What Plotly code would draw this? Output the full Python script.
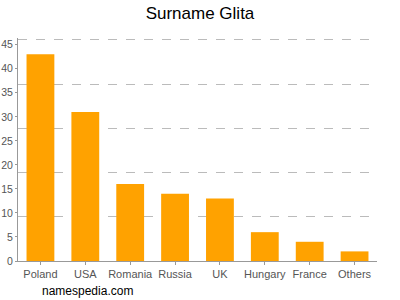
import plotly.graph_objects as go

countries = ["Poland", "USA", "Romania", "Russia", "UK", "Hungary", "France", "Others"]
counts = [43, 31, 16, 14, 13, 6, 4, 2]
y_ticks = [0, 5, 10, 15, 20, 25, 30, 35, 40, 45]
grid_lines = [9.2, 18.4, 27.6, 36.8, 46]
y_max = 46.4

fig = go.Figure()
fig.add_trace(go.Bar(x=countries, y=counts, marker=dict(color="#ffa200", line=dict(width=0)),
                     width=0.62, hoverinfo="x+y"))
# invisible trace on overlay axis to carry dashed gridlines
fig.add_trace(go.Scatter(x=countries[:1], y=[0], yaxis="y2", mode="markers",
                         marker=dict(opacity=0), showlegend=False, hoverinfo="skip"))

fig.update_layout(
    width=400, height=300,
    margin=dict(l=18, r=23, t=38, b=39),
    paper_bgcolor="white", plot_bgcolor="white",
    showlegend=False,
    title=dict(text="Surname Glita", x=0.5, xanchor="center", y=0.955, yanchor="middle",
               font=dict(family="Liberation Sans, Arial", size=17, color="#000")),
    font=dict(family="Liberation Sans, Arial", size=11, color="#555"),
    xaxis=dict(showline=True, linecolor="#999", linewidth=1, ticks="outside", ticklen=3,
               tickcolor="#999", showgrid=False, automargin=False,
               tickfont=dict(size=11, color="#555")),
    yaxis=dict(range=[0, y_max], tickvals=y_ticks, showline=True, linecolor="#999", linewidth=1,
               ticks="outside", ticklen=2, tickcolor="#999", showgrid=False, zeroline=False,
               automargin=False, ticklabelstandoff=0,
               tickfont=dict(size=10.5, color="#555")),
    yaxis2=dict(range=[0, y_max], overlaying="y", tickvals=grid_lines, showticklabels=False,
                showgrid=True, gridcolor="#bbb", griddash="dash", gridwidth=1, zeroline=False,
                showline=False, layer="below traces", automargin=False),
    annotations=[dict(text="namespedia.com", x=0, y=0, xref="paper", yref="paper", showarrow=False,
                      xanchor="left", yanchor="middle",
                      font=dict(family="Liberation Sans, Arial", size=12, color="#000"))],
)
# position annotation in pixels via paper fraction
fig.layout.annotations[0].x = (40 - 18) / (400 - 18 - 23)
fig.layout.annotations[0].y = -(291 - 261) / (261 - 38)
fig.write_html("out.html")
